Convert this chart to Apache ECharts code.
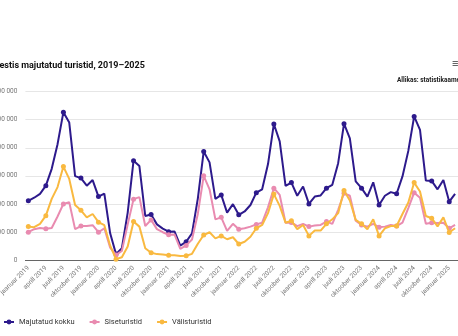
<!DOCTYPE html>
<html>
<head>
<meta charset="utf-8">
<style>
  html, body { margin: 0; padding: 0; background: #fff; }
  #chart { width: 458px; height: 336px; }
</style>
<script src="https://cdn.jsdelivr.net/npm/echarts@6/dist/echarts.min.js"></script>
</head>
<body>
<div id="chart"></div>
<script>
// Monthly accommodated tourists in Estonia, January 2019 – February 2025
const monthNames = ['jaanuar', 'veebruar', 'märts', 'aprill', 'mai', 'juuni',
  'juuli', 'august', 'september', 'oktoober', 'november', 'detsember'];
const years = [2019, 2020, 2021, 2022, 2023, 2024, 2025];
const monthCount = 74;

// Total accommodated tourists
const majutatudKokku = [
  211000, 222000, 236000, 265000, 325000, 413000, 527000, 490000, 299000, 292000, 265000, 285000,
  226000, 237000, 95000, 21000, 42000, 169000, 354000, 335000, 157000, 162000, 127000, 112000,
  101000, 102000, 51000, 65000, 95000, 220000, 387000, 348000, 218000, 232000, 169000, 199000,
  161000, 173000, 196000, 240000, 252000, 342000, 485000, 423000, 264000, 276000, 229000, 262000,
  200000, 226000, 230000, 256000, 268000, 345000, 486000, 434000, 280000, 256000, 226000, 277000,
  196000, 229000, 242000, 236000, 298000, 389000, 512000, 464000, 283000, 282000, 252000, 285000,
  208000, 236000
];

// Domestic tourists
const siseturistid = [
  99000, 110000, 114000, 111000, 114000, 155000, 200000, 206000, 110000, 121000, 121000, 124000,
  99000, 113000, 44000, 18000, 32000, 127000, 217000, 224000, 121000, 143000, 110000, 99000,
  90000, 91000, 40000, 52000, 73000, 165000, 300000, 252000, 145000, 152000, 104000, 129000,
  110000, 113000, 119000, 127000, 133000, 188000, 256000, 232000, 133000, 134000, 121000, 129000,
  119000, 123000, 125000, 137000, 129000, 179000, 238000, 229000, 140000, 125000, 119000, 129000,
  117000, 119000, 125000, 121000, 133000, 185000, 240000, 222000, 129000, 133000, 132000, 133000,
  113000, 125000
];

// Foreign tourists
const valisturistid = [
  119000, 117000, 129000, 158000, 218000, 260000, 333000, 289000, 196000, 177000, 152000, 164000,
  135000, 124000, 51000, 3000, 10000, 48000, 137000, 119000, 42000, 26000, 21000, 20000,
  17000, 17000, 14000, 15000, 22000, 58000, 89000, 99000, 77000, 86000, 74000, 81000,
  57000, 65000, 83000, 113000, 125000, 167000, 235000, 193000, 133000, 140000, 110000, 125000,
  86000, 105000, 105000, 129000, 145000, 167000, 248000, 212000, 143000, 129000, 110000, 145000,
  86000, 113000, 121000, 121000, 164000, 205000, 276000, 244000, 157000, 149000, 120000, 152000,
  98000, 113000
];

const yTicks = { min: 0, max: 600000, step: 100000 };

const categories = [];
for (let i = 0; i < monthCount; i++) {
  categories.push(monthNames[i % 12] + ' ' + years[Math.floor(i / 12)]);
}

const font = 'Roboto, "Noto Sans", sans-serif';
const colors = ['#2d1a8c', '#e98bb0', '#f9b940'];

function fmt(v) {
  return String(v).replace(/\B(?=(\d{3})+(?!\d))/g, ' ');
}

function lineSeries(name, data, color, z) {
  return {
    name: name,
    type: 'line',
    data: data,
    z: z,
    symbol: 'circle',
    symbolSize: 5,
    showSymbol: true,
    lineStyle: { width: 2, color: color },
    itemStyle: { color: color },
    emphasis: { disabled: true },
    animation: false
  };
}

const chart = echarts.init(document.getElementById('chart'), null, { renderer: 'canvas' });
chart.setOption({
  animation: false,
  color: colors,
  graphic: [
    {
      type: 'text', x: -5.5, y: 61,
      style: { text: 'Eestis majutatud turistid, 2019–2025', font: 'bold 9px ' + font, fill: '#111' }
    },
    {
      type: 'text', x: 397, y: 77,
      style: { text: 'Allikas: statistikaamet', font: 'bold 6.5px ' + font, fill: '#222' }
    },
    {
      type: 'text', x: 452, y: 59,
      style: { text: '≡', font: 'bold 11px ' + font, fill: '#333' }
    }
  ],
  legend: {
    left: -2,
    top: 313,
    itemWidth: 10,
    itemHeight: 6,
    itemGap: 14,
    textStyle: { fontFamily: font, fontSize: 7.5, color: '#333' },
    data: ['Majutatud kokku', 'Siseturistid', 'Välisturistid']
  },
  grid: {
    left: 25.4, right: 0, top: 91.7, bottom: 76,
    containLabel: false,
    outerBoundsMode: 'none'
  },
  xAxis: {
    type: 'category',
    data: categories,
    boundaryGap: true,
    axisLine: { lineStyle: { color: '#666', width: 1 } },
    axisTick: { show: false },
    axisLabel: {
      interval: 2,
      rotate: 45,
      margin: 7,
      fontFamily: font,
      fontSize: 6.5,
      color: '#777'
    }
  },
  yAxis: {
    type: 'value',
    min: yTicks.min,
    max: yTicks.max,
    interval: yTicks.step,
    axisLine: { show: false },
    axisTick: { show: false },
    axisLabel: {
      margin: 8,
      fontFamily: font,
      fontSize: 6.5,
      color: '#777',
      formatter: fmt
    },
    splitLine: { lineStyle: { color: '#e6e6e6', width: 1 } }
  },
  series: [
    lineSeries('Majutatud kokku', majutatudKokku, colors[0], 3),
    lineSeries('Siseturistid', siseturistid, colors[1], 4),
    lineSeries('Välisturistid', valisturistid, colors[2], 5)
  ]
});
</script>
</body>
</html>
